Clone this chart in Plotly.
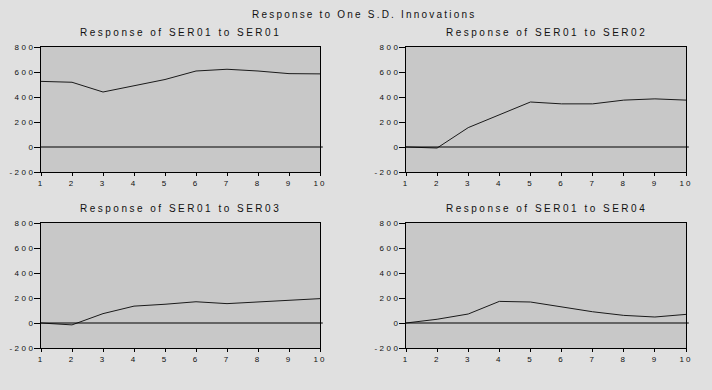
import plotly.graph_objects as go

periods = [1, 2, 3, 4, 5, 6, 7, 8, 9, 10]
resp_ser01 = [525, 518, 440, 490, 540, 608, 622, 608, 587, 585]
resp_ser02 = [0, -8, 155, 255, 360, 345, 345, 375, 385, 375]
resp_ser03 = [0, -15, 75, 135, 150, 170, 155, 170, 183, 195]
resp_ser04 = [0, 30, 72, 173, 168, 128, 90, 61, 48, 69]
panel_titles = ["Response of SER01 to SER01", "Response of SER01 to SER02",
                "Response of SER01 to SER03", "Response of SER01 to SER04"]
main_title = "Response to One S.D. Innovations"
y_ticks = [-200, 0, 200, 400, 600, 800]

W, H = 712, 390
series = [resp_ser01, resp_ser02, resp_ser03, resp_ser04]
# pixel boxes: (left, right, top, bottom)
boxes = [(41, 320, 47, 172), (406, 686, 47, 172), (41, 320, 223, 348), (406, 686, 223, 348)]


def spaced(s, px):
    return f'<span style="letter-spacing:{px}px">{s}</span>'


fig = go.Figure()
font = "Liberation Sans, Arial, sans-serif"
annotations = []
shapes = []
for i, (vals, box) in enumerate(zip(series, boxes)):
    n = i + 1
    xa = "x" if n == 1 else f"x{n}"
    ya = "y" if n == 1 else f"y{n}"
    l, r, t, b = box
    fig.add_trace(go.Scatter(x=periods, y=vals, mode="lines",
                             line=dict(color="#1a1a1a", width=1),
                             xaxis=xa, yaxis=ya, showlegend=False, hoverinfo="skip"))
    axis_common = dict(showline=True, linecolor="black", linewidth=1, mirror=True,
                       ticks="outside", tickcolor="black", showgrid=False,
                       zeroline=False, automargin=False,
                       tickfont=dict(family=font, size=8, color="#111"))
    fig.layout[f"xaxis{'' if n == 1 else n}"] = dict(
        domain=[l / W, r / W], anchor=ya, range=[1, 10], tickmode="array", ticklen=3,
        tickvals=periods, ticktext=[spaced(p, 2) for p in periods], **axis_common)
    fig.layout[f"yaxis{'' if n == 1 else n}"] = dict(
        domain=[1 - b / H, 1 - t / H], anchor=xa, range=[-200, 800], tickmode="array",
        ticklen=6, tickvals=y_ticks, ticktext=[spaced(v, 2.5) for v in y_ticks],
        ticklabelstandoff=-3, **axis_common)
    shapes.append(dict(type="line", xref=f"{xa} domain", yref=ya, x0=0, x1=1.01, y0=0, y1=0,
                       line=dict(color="black", width=1)))
    annotations.append(dict(text=spaced(panel_titles[i], 2.5), xref="paper", yref="paper",
                            x=(l + r) / 2 / W, y=1 - (t - 15) / H, showarrow=False,
                            xanchor="center", yanchor="middle",
                            font=dict(family=font, size=10, color="#111")))

annotations.append(dict(text=spaced(main_title, 2.2), xref="paper", yref="paper", x=364 / W,
                        y=1 - 15 / H, showarrow=False, xanchor="center", yanchor="middle",
                        font=dict(family=font, size=10, color="#111")))

fig.update_layout(width=W, height=H, margin=dict(l=0, r=0, t=0, b=0),
                  paper_bgcolor="#e0e0e0", plot_bgcolor="#c8c8c8",
                  annotations=annotations, shapes=shapes)
fig.write_html("out.html", config={"displayModeBar": False},
               post_script="document.body.style.margin='0';document.body.style.overflow='hidden';")
